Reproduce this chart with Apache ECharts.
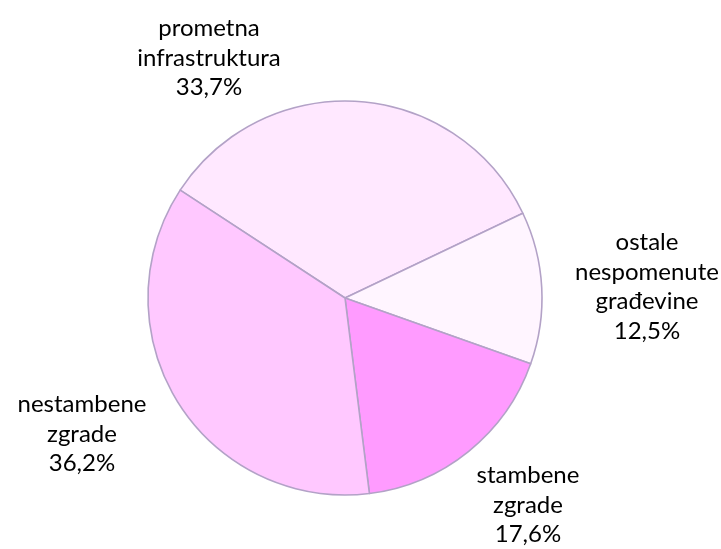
<!DOCTYPE html>
<html>
<head>
<meta charset="utf-8">
<script src="https://cdn.jsdelivr.net/npm/echarts@6/dist/echarts.min.js"></script>
<style>
  html, body { margin: 0; padding: 0; background: #ffffff; }
  #chart { width: 721px; height: 549px; }
</style>
</head>
<body>
<div id="chart"></div>
<script>
// Data
const categories = ['prometna\ninfrastruktura', 'ostale\nnespomenute\ngrađevine', 'stambene\nzgrade', 'nestambene\nzgrade'];
const shares = [33.7, 12.5, 17.6, 36.2];

// Styles / layout
const sliceColors = ['#FFE8FF', '#FFF5FF', '#FF9BFF', '#FFC8FF'];
const labelPos = [[209, 58], [647, 287], [528, 505], [82, 434]];

const chart = echarts.init(document.getElementById('chart'), null, { renderer: 'canvas' });

chart.setOption({
  animation: false,
  backgroundColor: '#ffffff',
  series: [{
    type: 'pie',
    center: [345, 298],
    radius: [0, 197],
    startAngle: 146.8,
    clockwise: true,
    avoidLabelOverlap: false,
    itemStyle: { borderColor: '#B3A2C7', borderWidth: 1.6 },
    emphasis: { disabled: true },
    label: {
      show: true,
      position: 'outside',
      formatter: function (p) {
        return p.name + '\n' + p.value.toFixed(1).replace('.', ',') + '%';
      },
      fontFamily: 'Lato, "Open Sans", sans-serif',
      fontSize: 24,
      lineHeight: 29.5,
      color: '#000000',
      align: 'center'
    },
    labelLine: { show: false },
    labelLayout: function (params) {
      const pos = labelPos[params.dataIndex];
      return { x: pos[0], y: pos[1], align: 'center', verticalAlign: 'middle', hideOverlap: false };
    },
    data: categories.map(function (c, i) {
      return { name: c, value: shares[i], itemStyle: { color: sliceColors[i] } };
    })
  }]
});
</script>
</body>
</html>
